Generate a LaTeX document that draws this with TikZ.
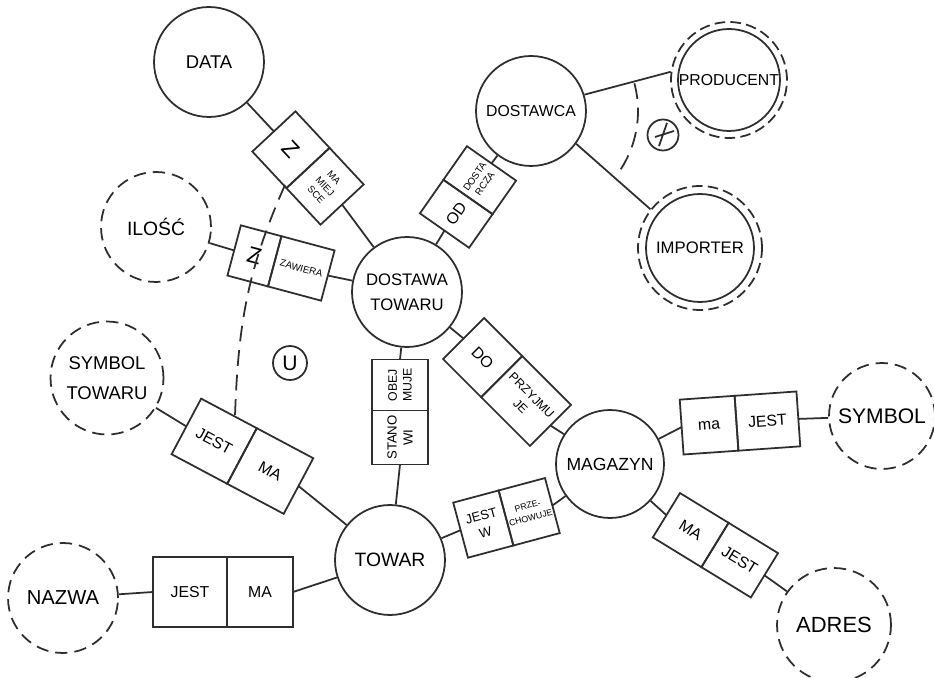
\documentclass[tikz,border=0pt]{standalone}
\usepackage{fontspec}
\setmainfont{Liberation Sans}
\usetikzlibrary{calc}
\tikzset{
  ink/.style={draw=black!82, line width=1pt},
  ent/.style={ink, circle, minimum size=2.2cm, inner sep=0pt, align=center, font=\fontsize{10}{12}\selectfont},
  attr/.style={ent, dash pattern=on 7pt off 4pt},
  ring/.style={ink, circle, inner sep=0pt, dash pattern=on 6pt off 3pt},
  cell/.style={ink, rectangle, inner sep=0pt, outer sep=0pt, align=center, font=\fontsize{9}{10}\selectfont},
  link/.style={ink},
  uline/.style={ink, dash pattern=on 9pt off 5pt},
}
\begin{document}
\begin{tikzpicture}[x=0.02cm, y=0.02cm]
\path[use as bounding box, fill=white] (0,0) rectangle (934,-678);

% ---------- entities ----------
\node[ent, font=\fontsize{10.5}{12}\selectfont] (data) at (209,-62) {DATA};
\node[ent, font=\fontsize{9}{11}\selectfont] (dostawca) at (531,-111) {DOSTAWCA};
\node[ent, minimum size=2.04cm, font=\fontsize{9}{11}\selectfont] (prod) at (729,-80) {PRODUCENT};
\node[ring, minimum size=2.32cm] (prodo) at (prod) {};
\node[ent, minimum size=2.16cm, font=\fontsize{9.5}{11}\selectfont] (imp) at (700,-248) {IMPORTER};
\node[ring, minimum size=2.48cm] (impo) at (imp) {};
\node[attr, font=\fontsize{11}{12}\selectfont] (ilosc) at (156,-227) {ILOŚĆ};
\node[ent, font=\fontsize{9.5}{14}\selectfont] (dt) at (407,-292) {DOSTAWA\\TOWARU};
\node[attr, minimum size=2.26cm, font=\fontsize{10.5}{17}\selectfont] (symt) at (107,-378) {SYMBOL\\TOWARU};
\node[ent, font=\fontsize{11}{12}\selectfont] (towar) at (390,-560) {TOWAR};
\node[attr, font=\fontsize{11.5}{12}\selectfont] (nazwa) at (63,-598) {NAZWA};
\node[ent, minimum size=2.16cm, font=\fontsize{10}{12}\selectfont] (mag) at (610,-464) {MAGAZYN};
\node[attr, minimum size=2.12cm, font=\fontsize{12}{13}\selectfont] (symbol) at (882,-416) {SYMBOL};
\node[attr, minimum size=2.28cm, font=\fontsize{12.5}{13}\selectfont] (adres) at (834,-625) {ADRES};

% ---------- relationship boxes ----------
% r1 DATA - DOSTAWA TOWARU
\coordinate (r1d) at (308,-168);
\node[cell, rotate=-47, minimum width=1cm, minimum height=1.18cm, anchor=east, font=\fontsize{13}{14}\selectfont] (r1a) at (r1d) {Z};
\node[cell, rotate=-47, minimum width=1cm, minimum height=1.18cm, anchor=west, font=\fontsize{5.5}{7}\selectfont] (r1b) at (r1d) {MA\\MIEJ\\SCE};
% r2 ILOSC - DOSTAWA TOWARU
\path (281,-263) ++(-15:-6.5) coordinate (r2d);
\node[cell, rotate=-15, minimum width=0.84cm, minimum height=1.04cm, anchor=east, font=\fontsize{13}{14}\selectfont] (r2a) at (r2d) {Z};
\node[cell, rotate=-15, minimum width=1.1cm, minimum height=1.04cm, anchor=west, font=\fontsize{5.5}{7}\selectfont] (r2b) at (r2d) {ZAWIERA};
% r3 DOSTAWA TOWARU - DOSTAWCA
\coordinate (r3d) at (468,-197);
\node[cell, rotate=55, minimum width=0.82cm, minimum height=1.2cm, anchor=east] (r3a) at (r3d) {OD};
\node[cell, rotate=55, minimum width=0.82cm, minimum height=1.2cm, anchor=west, font=\fontsize{5.5}{7}\selectfont] (r3b) at (r3d) {DOSTA\\RCZA};
% r4 DOSTAWA TOWARU - MAGAZYN
\path (507,-382) ++(-45:-7.5) coordinate (r4d);
\node[cell, rotate=-45, minimum width=1.08cm, minimum height=1.16cm, anchor=east] (r4a) at (r4d) {DO};
\node[cell, rotate=-45, minimum width=1.38cm, minimum height=1.16cm, anchor=west, font=\fontsize{7}{9}\selectfont] (r4b) at (r4d) {PRZYJMU\\JE};
% r5 TOWAR - DOSTAWA TOWARU
\path (400,-412) ++(90:1.5) coordinate (r5d);
\node[cell, rotate=90, minimum width=1.08cm, minimum height=1.12cm, anchor=east, font=\fontsize{7.5}{9}\selectfont] (r5a) at (r5d) {STANO\\WI};
\node[cell, rotate=90, minimum width=1.02cm, minimum height=1.12cm, anchor=west, font=\fontsize{7}{8.5}\selectfont] (r5b) at (r5d) {OBEJ\\MUJE};
% r6 TOWAR - MAGAZYN
\coordinate (r6d) at (506,-518);
\node[cell, rotate=15, minimum width=0.94cm, minimum height=1.14cm, anchor=east, font=\fontsize{7.5}{9.5}\selectfont] (r6a) at (r6d) {JEST\\W};
\node[cell, rotate=15, minimum width=0.96cm, minimum height=1.14cm, anchor=west, font=\fontsize{5}{7}\selectfont] (r6b) at (r6d) {PRZE-\\CHOWUJE};
% r7 SYMBOL TOWARU - TOWAR
\coordinate (r7d) at (242,-456);
\node[cell, rotate=-28, minimum width=1.26cm, minimum height=1.26cm, anchor=east] (r7a) at (r7d) {JEST};
\node[cell, rotate=-28, minimum width=1.28cm, minimum height=1.26cm, anchor=west] (r7b) at (r7d) {MA};
% r8 NAZWA - TOWAR
\coordinate (r8d) at (227,-592);
\node[cell, minimum width=1.48cm, minimum height=1.4cm, anchor=east] (r8a) at (r8d) {JEST};
\node[cell, minimum width=1.32cm, minimum height=1.4cm, anchor=west] (r8b) at (r8d) {MA};
% r9 MAGAZYN - SYMBOL
\path (740,-423) ++(4:-3.5) coordinate (r9d);
\node[cell, rotate=4, minimum width=1.1cm, minimum height=1.1cm, anchor=east] (r9a) at (r9d) {ma};
\node[cell, rotate=4, minimum width=1.24cm, minimum height=1.1cm, anchor=west] (r9b) at (r9d) {JEST};
% r10 MAGAZYN - ADRES
\coordinate (r10d) at (715,-545);
\node[cell, rotate=-31.5, minimum width=1.14cm, minimum height=1.04cm, anchor=east] (r10a) at (r10d) {MA};
\node[cell, rotate=-31.5, minimum width=1.16cm, minimum height=1.04cm, anchor=west] (r10b) at (r10d) {JEST};

% ---------- connectors ----------
\draw[link] (data) -- (r1a.west);   \draw[link] (r1b.east) -- (dt);
\draw[link] (ilosc) -- (r2a.west);  \draw[link] (r2b.east) -- (dt);
\draw[link] (dt) -- (r3a.west);     \draw[link] (r3b.east) -- (dostawca);
\draw[link] (dt) -- (r4a.west);     \draw[link] (r4b.east) -- (mag);
\draw[link] (towar) -- (r5a.west);  \draw[link] (r5b.east) -- (dt);
\draw[link] (towar) -- (r6a.west);  \draw[link] (r6b.east) -- (mag);
\draw[link] (symt) -- (r7a.west);   \draw[link] (r7b.east) -- (towar);
\draw[link] (nazwa) -- (r8a.west);  \draw[link] (r8b.east) -- (towar);
\draw[link] (mag) -- (r9a.west);    \draw[link] (r9b.east) -- (symbol);
\draw[link] (mag) -- (r10a.west);   \draw[link] (r10b.east) -- (adres);
\draw[link] (dostawca.17) -- (prodo.172);
\draw[link] (dostawca.-36) -- (impo.142);

% ---------- exclusive arc and symbol ----------
\draw[uline] (dostawca.center) ++(15:107) arc[start angle=15, end angle=-37, radius=107];
\node[ink, circle, minimum size=0.62cm, inner sep=0pt] (xs) at (663,-135) {};
\draw[ink] ($(xs.center)+(-8,-2)$) -- ($(xs.center)+(11,4)$);
\draw[ink] ($(xs.center)+(-4,-11)$) -- ($(xs.center)+(4,12)$);

% ---------- union arc and symbol ----------
\coordinate (u1) at (285,-185);
\coordinate (u2) at (235,-416);
\draw[uline] (u1) to[out=246, in=88] (u2);
\node[ink, circle, minimum size=0.68cm, inner sep=0pt, font=\fontsize{12}{12}\selectfont] (us) at (290,-363) {U};
\end{tikzpicture}
\end{document}
